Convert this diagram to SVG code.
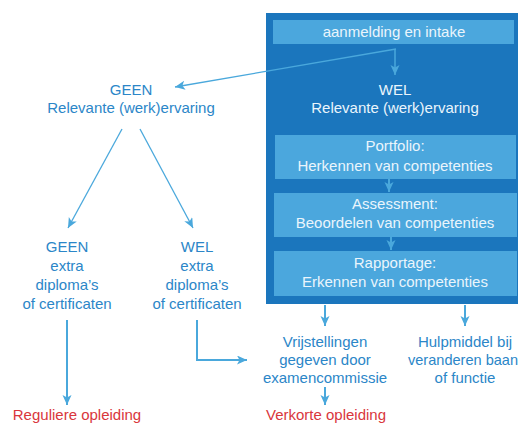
<svg xmlns="http://www.w3.org/2000/svg" width="522" height="424" viewBox="0 0 522 424">
<defs>
<style>
text{font-family:"Liberation Sans",Arial,sans-serif;font-size:15px;text-anchor:middle}
.in{fill:#eaf5fc}
.out{fill:#2b86c8}
.red{fill:#d9363c}
.box{fill:#4ba7dd}
.ln{stroke:#4aa8dc;fill:none}
</style>
<marker id="ah" markerUnits="userSpaceOnUse" markerWidth="11" markerHeight="10" refX="10" refY="4.5" orient="auto">
<path d="M0,0 L10,4.5 L0,9 L2.5,4.5 z" fill="#4aa8dc"/>
</marker>
</defs>
<rect id="panel" x="266" y="13" width="252" height="291" fill="#1b76bd"/>
<g id="intake"><rect class="box" x="273" y="20" width="241" height="24"/><text class="in" x="394" y="37">aanmelding en intake</text></g>
<g id="wel"><text class="in" x="395" y="95">WEL</text><text class="in" x="395" y="113">Relevante (werk)ervaring</text></g>
<g id="portfolio"><rect class="box" x="275" y="135" width="241" height="44"/><text class="in" x="395" y="151">Portfolio:</text><text class="in" x="395" y="171">Herkennen van competenties</text></g>
<g id="assessment"><rect class="box" x="274" y="193" width="243" height="44"/><text class="in" x="395" y="209">Assessment:</text><text class="in" x="395" y="228">Beoordelen van competenties</text></g>
<g id="rapportage"><rect class="box" x="274" y="251" width="243" height="45"/><text class="in" x="395" y="268">Rapportage:</text><text class="in" x="395" y="287">Erkennen van competenties</text></g>
<g id="geen"><text class="out" x="131" y="95">GEEN</text><text class="out" x="131" y="113">Relevante (werk)ervaring</text></g>
<g id="geen-extra"><text class="out" x="67" y="252">GEEN</text><text class="out" x="67" y="271">extra</text><text class="out" x="67" y="290">diploma’s</text><text class="out" x="67" y="309">of certificaten</text></g>
<g id="wel-extra"><text class="out" x="197" y="252">WEL</text><text class="out" x="197" y="271">extra</text><text class="out" x="197" y="290">diploma’s</text><text class="out" x="197" y="309">of certificaten</text></g>
<g id="vrijstellingen"><text class="out" x="325" y="347">Vrijstellingen</text><text class="out" x="325" y="365">gegeven door</text><text class="out" x="325" y="383">examencommissie</text></g>
<g id="hulpmiddel"><text class="out" x="465" y="347">Hulpmiddel bij</text><text class="out" x="463" y="365" textLength="110" lengthAdjust="spacingAndGlyphs">veranderen baan</text><text class="out" x="465" y="383">of functie</text></g>
<g id="regulier"><text class="red" x="77" y="420">Reguliere opleiding</text></g>
<g id="verkort"><text class="red" x="326" y="420">Verkorte opleiding</text></g>
<g id="connectors">
<line class="ln" x1="396" y1="49" x2="175" y2="87" stroke-width="1.3" marker-end="url(#ah)"/>
<line class="ln" x1="395" y1="49" x2="395" y2="75" stroke-width="1.5" marker-end="url(#ah)"/>
<line class="ln" x1="122" y1="129" x2="68" y2="228" stroke-width="1.3" marker-end="url(#ah)"/>
<line class="ln" x1="140" y1="129" x2="193" y2="228" stroke-width="1.3" marker-end="url(#ah)"/>
<line class="ln" x1="389" y1="179" x2="389" y2="192" stroke-width="2" marker-end="url(#ah)"/>
<line class="ln" x1="391" y1="237" x2="391" y2="250" stroke-width="2" marker-end="url(#ah)"/>
<line class="ln" x1="67" y1="320" x2="67" y2="405" stroke-width="2" marker-end="url(#ah)"/>
<polyline class="ln" points="197,320 197,360 247,360" stroke-width="2" marker-end="url(#ah)"/>
<line class="ln" x1="325" y1="305" x2="325" y2="326" stroke-width="2" marker-end="url(#ah)"/>
<line class="ln" x1="465" y1="305" x2="465" y2="326" stroke-width="2" marker-end="url(#ah)"/>
<line class="ln" x1="325" y1="387" x2="325" y2="405" stroke-width="2" marker-end="url(#ah)"/>
</g>
</svg>
